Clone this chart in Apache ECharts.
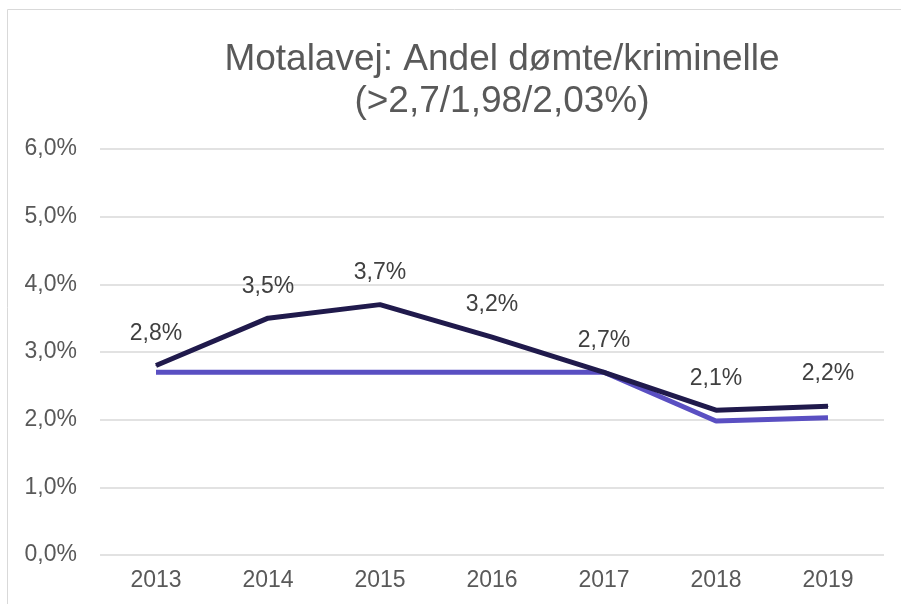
<!DOCTYPE html>
<html>
<head>
<meta charset="utf-8">
<script src="https://cdn.jsdelivr.net/npm/echarts@6/dist/echarts.min.js"></script>
<style>
  html, body { margin: 0; padding: 0; background: #fff; }
  #chart { width: 901px; height: 604px; }
</style>
</head>
<body>
<div id="chart"></div>
<script>
// data
var years = ['2013', '2014', '2015', '2016', '2017', '2018', '2019'];
var motalavej = [2.8, 3.5, 3.7, 3.22, 2.7, 2.14, 2.2];
var target = [2.7, 2.7, 2.7, 2.7, 2.7, 1.98, 2.03];

function pct(v) {
    return v.toFixed(1).replace('.', ',') + '%';
}

var chart = echarts.init(document.getElementById('chart'));
chart.setOption({
    animation: false,
    textStyle: { fontFamily: 'Liberation Sans, Arial, sans-serif' },
    graphic: [{
        type: 'rect',
        shape: { x: 7.5, y: 9.5, width: 1000, height: 1000 },
        style: { fill: 'none', stroke: '#d9d9d9', lineWidth: 1 },
        silent: true
    }],
    title: {
        text: 'Motalavej: Andel dømte/kriminelle\n(>2,7/1,98/2,03%)',
        left: 497,
        top: 34,
        textAlign: 'center',
        textStyle: {
            color: '#595959',
            fontSize: 37,
            fontWeight: 'normal',
            lineHeight: 42,
            fontFamily: 'Liberation Sans, Arial, sans-serif'
        }
    },
    grid: { left: 100, right: 17, top: 149, bottom: 49 },
    xAxis: {
        type: 'category',
        data: years,
        boundaryGap: true,
        axisLine: { show: false },
        axisTick: { show: false },
        axisLabel: { color: '#595959', fontSize: 23, margin: 14 }
    },
    yAxis: {
        type: 'value',
        min: 0,
        max: 6,
        interval: 1,
        axisLabel: {
            color: '#595959',
            fontSize: 23,
            margin: 23,
            formatter: function (v) { return pct(v); }
        },
        splitLine: { lineStyle: { color: '#d9d9d9', width: 1.5 } }
    },
    series: [{
        name: 'Mål',
        type: 'line',
        data: target,
        symbol: 'none',
        z: 2,
        lineStyle: { color: '#5a4fc2', width: 5 }
    }, {
        name: 'Motalavej',
        type: 'line',
        data: motalavej,
        symbol: 'circle',
        symbolSize: 1,
        showSymbol: true,
        itemStyle: { color: '#201a4c' },
        z: 3,
        lineStyle: { color: '#201a4c', width: 5 },
        label: {
            show: true,
            position: 'top',
            distance: 20,
            color: '#404040',
            fontSize: 23,
            formatter: function (p) { return pct(p.value); }
        }
    }]
});
</script>
</body>
</html>
